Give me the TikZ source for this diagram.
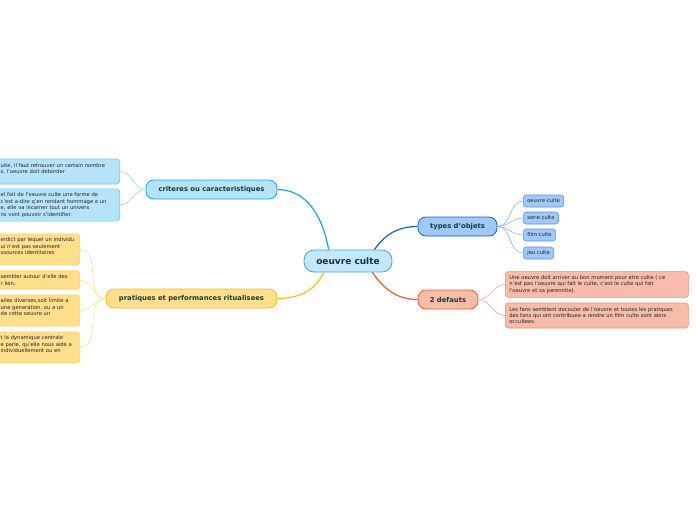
\documentclass[tikz,border=0pt]{standalone}
\usepackage{fontspec}
\setmainfont{DejaVu Sans}
\usepackage{tikz}
\usetikzlibrary{arrows.meta,calc}
\definecolor{rootfill}{HTML}{C4E8FB}
\definecolor{rootline}{HTML}{4A9FD8}
\definecolor{roottext}{HTML}{1B2B55}
\definecolor{branchtext}{HTML}{173B3A}
\definecolor{leaftext}{HTML}{222222}
\definecolor{critfill}{HTML}{B5E4FA}
\definecolor{critline}{HTML}{1CA2E2}
\definecolor{critleaf}{HTML}{6CC6F2}
\definecolor{crittwig}{HTML}{90D6F6}
\definecolor{pratfill}{HTML}{FFDF8C}
\definecolor{pratline}{HTML}{FBBA1E}
\definecolor{pratleaf}{HTML}{FCCF66}
\definecolor{prattwig}{HTML}{FDE090}
\definecolor{typefill}{HTML}{A0C8F8}
\definecolor{typeline}{HTML}{1A5FCC}
\definecolor{typeleaf}{HTML}{5C94E8}
\definecolor{typetwig}{HTML}{8AB2F0}
\definecolor{deffill}{HTML}{F8BCAA}
\definecolor{defline}{HTML}{EE5A2E}
\definecolor{defleaf}{HTML}{F08A6E}
\definecolor{deftwig}{HTML}{F4A48E}
\tikzset{
  root/.style={draw=rootline, fill=rootfill, rounded corners=10pt, line width=0.8pt, minimum width=88pt, minimum height=22pt, font=\fontsize{9}{10}\selectfont\bfseries, text=roottext},
  branch/.style={rounded corners=8pt, line width=0.8pt, minimum height=19pt, inner sep=2pt, font=\fontsize{6.8}{8}\selectfont\bfseries, text=branchtext},
  leaf/.style={rounded corners=3pt, line width=0.6pt, inner sep=4pt, align=left, font=\fontsize{5.2}{6.4}\selectfont, text=leaftext},
  tag/.style={leaf, minimum height=12pt, inner ysep=1.5pt},
  link/.style={line width=1.2pt},
  twig/.style={line width=0.6pt}}

\begin{document}
\begin{tikzpicture}[x=1pt, y=1pt]
  \useasboundingbox (0,0) rectangle (696,-520);
  \clip (0,0) rectangle (696,-520);
  % centre
  \node[root] (oc) at (348,-261) {oeuvre culte};
  % branches
  \node[branch, draw=critline, fill=critfill, minimum width=131pt] (crit) at (211.5,-189.5) {criteres ou caracteristiques};
  \node[branch, draw=pratline, fill=pratfill, minimum width=171pt] (prat) at (191.5,-298.5) {pratiques et performances ritualisees};
  \node[branch, draw=typeline, fill=typefill, minimum width=79pt] (types) at (457.5,-226.5) {types d'objets};
  \node[branch, draw=defline, fill=deffill, minimum width=60pt] (defauts) at (448,-299.5) {2 defauts};
  % criteres
  \node[leaf, draw=critleaf, fill=critfill, text width=115pt, minimum height=25pt, anchor=east] (crit1) at (120,-171.5)
    {uite, il faut retrouver un certain nombre\\s, l'oeuvre doit deborder\\\mbox{}};
  \node[leaf, draw=critleaf, fill=critfill, text width=115pt, minimum height=30pt, anchor=east] (crit2) at (120,-205)
    {el fait de l'oeuvre culte une forme de\\c'est a-dire q'en rendant hommage a un\\e, elle va incarner tout un univers\\ns vont pouvoir s'identifier.};
  % pratiques
  \node[leaf, draw=pratleaf, fill=pratfill, text width=75pt, minimum height=31pt, anchor=east] (prat1) at (80,-249.5)
    {erdict par lequel un individu\\ui n'est pas seulement\\ssources identitaires\\\mbox{}};
  \node[leaf, draw=pratleaf, fill=pratfill, text width=75pt, minimum height=18pt, anchor=east] (prat2) at (80,-280)
    {sembler autour d'elle des\\r lien.};
  \node[leaf, draw=pratleaf, fill=pratfill, text width=75pt, minimum height=31pt, anchor=east] (prat3) at (80,-310.5)
    {ailes diverses,soit limite a\\une generation, ou a un\\de cette oeuvre un\\\mbox{}};
  \node[leaf, draw=pratleaf, fill=pratfill, text width=75pt, minimum height=31pt, anchor=east] (prat4) at (80,-347.5)
    {t la dynamique centrale\\e parle, qu'elle nous aide a\\individuellement ou en\\\mbox{}};
  % types d'objets
  \node[tag, draw=typeleaf, fill=typefill, anchor=west] (ty1) at (523,-201) {oeuvre culte};
  \node[tag, draw=typeleaf, fill=typefill, anchor=west] (ty2) at (523,-218) {serie culte};
  \node[tag, draw=typeleaf, fill=typefill, anchor=west] (ty3) at (523,-235) {film culte};
  \node[tag, draw=typeleaf, fill=typefill, anchor=west] (ty4) at (523,-253) {jeu culte};
  % 2 defauts
  \node[leaf, draw=defleaf, fill=deffill, text width=175pt, minimum height=25pt, anchor=west] (def1) at (505,-284.5)
    {Une oeuvre doit arriver au bon moment pour etre culte ( ce\\n'est pas l'oeuvre qui fait le culte, c'est le culte qui fait\\l'oeuvre et sa perennite).};
  \node[leaf, draw=defleaf, fill=deffill, text width=175pt, minimum height=25pt, anchor=west] (def2) at (505,-315.5)
    {Les fans semblent decouler de l'oeuvre et toutes les pratiques\\des fans qui ont contribuee a rendre un film culte sont alors\\occultees.};
  % main links
  \draw[link, critline] ([xshift=25pt]oc.north west) to[out=100,in=0] (crit.east);
  \draw[link, pratline] ([xshift=20pt]oc.south west) to[out=-115,in=0] (prat.east);
  \draw[link, typeline] ([xshift=-18pt]oc.north east) to[out=55,in=180] (types.west);
  \draw[link, defline] ([xshift=-20pt]oc.south east) to[out=-55,in=180] (defauts.west);
  % twigs
  \foreach \k in {crit1,crit2} \draw[twig, crittwig] (crit.west) to[out=180,in=0] (\k.east);
  \foreach \k in {prat1,prat2,prat3,prat4} \draw[twig, prattwig] (prat.west) to[out=180,in=0] (\k.east);
  \foreach \k in {ty1,ty2,ty3,ty4} \draw[twig, typetwig] (types.east) to[out=0,in=180] (\k.west);
  \foreach \k in {def1,def2} \draw[twig, deftwig] (defauts.east) to[out=0,in=180] (\k.west);
\end{tikzpicture}
\end{document}
